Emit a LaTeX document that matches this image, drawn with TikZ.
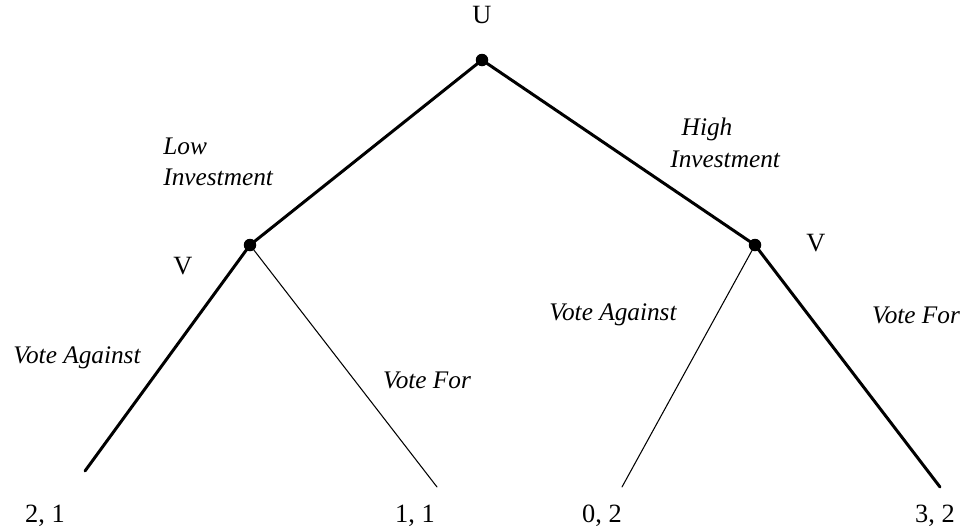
\documentclass[tikz,border=0pt]{standalone}
\usepackage{fontspec}
\setmainfont{Liberation Serif}
\usepackage{tikz}
\tikzset{
  move/.style={line width=1.7pt, line cap=round},
  thinmove/.style={line width=0.6pt, line cap=round},
  choice/.style={circle, fill=black, inner sep=0pt, minimum size=0.25cm},
  lbl/.style={font=\fontsize{14.4}{18}\selectfont\itshape, inner sep=0pt},
  pay/.style={font=\fontsize{15}{18}\selectfont, inner sep=0pt},
}

\begin{document}
\begin{tikzpicture}[x=0.02cm, y=-0.02cm]
\useasboundingbox (0,0) rectangle (961,528);
\node[choice] (u) at (482,60) {};
\node[choice] (vl) at (250,245) {};
\node[choice] (vr) at (755,245) {};
\coordinate (ll) at (85,471);
\coordinate (lr) at (437,487);
\coordinate (rl) at (622,487);
\coordinate (rr) at (940,487);
\draw[move] (u.center) -- (vl.center);
\draw[move] (u.center) -- (vr.center);
\draw[move] (vl.center) -- (ll);
\draw[thinmove] (vl.center) -- (lr);
\draw[thinmove] (vr.center) -- (rl);
\draw[move] (vr.center) -- (rr);
\node[pay] (ulbl) at (482,15) {U};
\node[pay] (vllbl) at (183,266) {V};
\node[pay] (vrlbl) at (816,243) {V};
\node[lbl, align=left, anchor=west] (lowinv) at (163,162) {Low\\Investment};
\node[lbl, align=left, anchor=west] (highinv) at (670,143) {\hspace{0.45em}High\\Investment};
\node[lbl] (vagl) at (77,358) {Vote Against};
\node[lbl] (vforl) at (427,380) {Vote For};
\node[lbl] (vagr) at (613,315) {Vote Against};
\node[lbl] (vforr) at (916,315) {Vote For};
\node[pay] (p1) at (45,516) {2, 1};
\node[pay] (p2) at (415,516) {1, 1};
\node[pay] (p3) at (602,516) {0, 2};
\node[pay] (p4) at (935,516) {3, 2};
\end{tikzpicture}
\end{document}
